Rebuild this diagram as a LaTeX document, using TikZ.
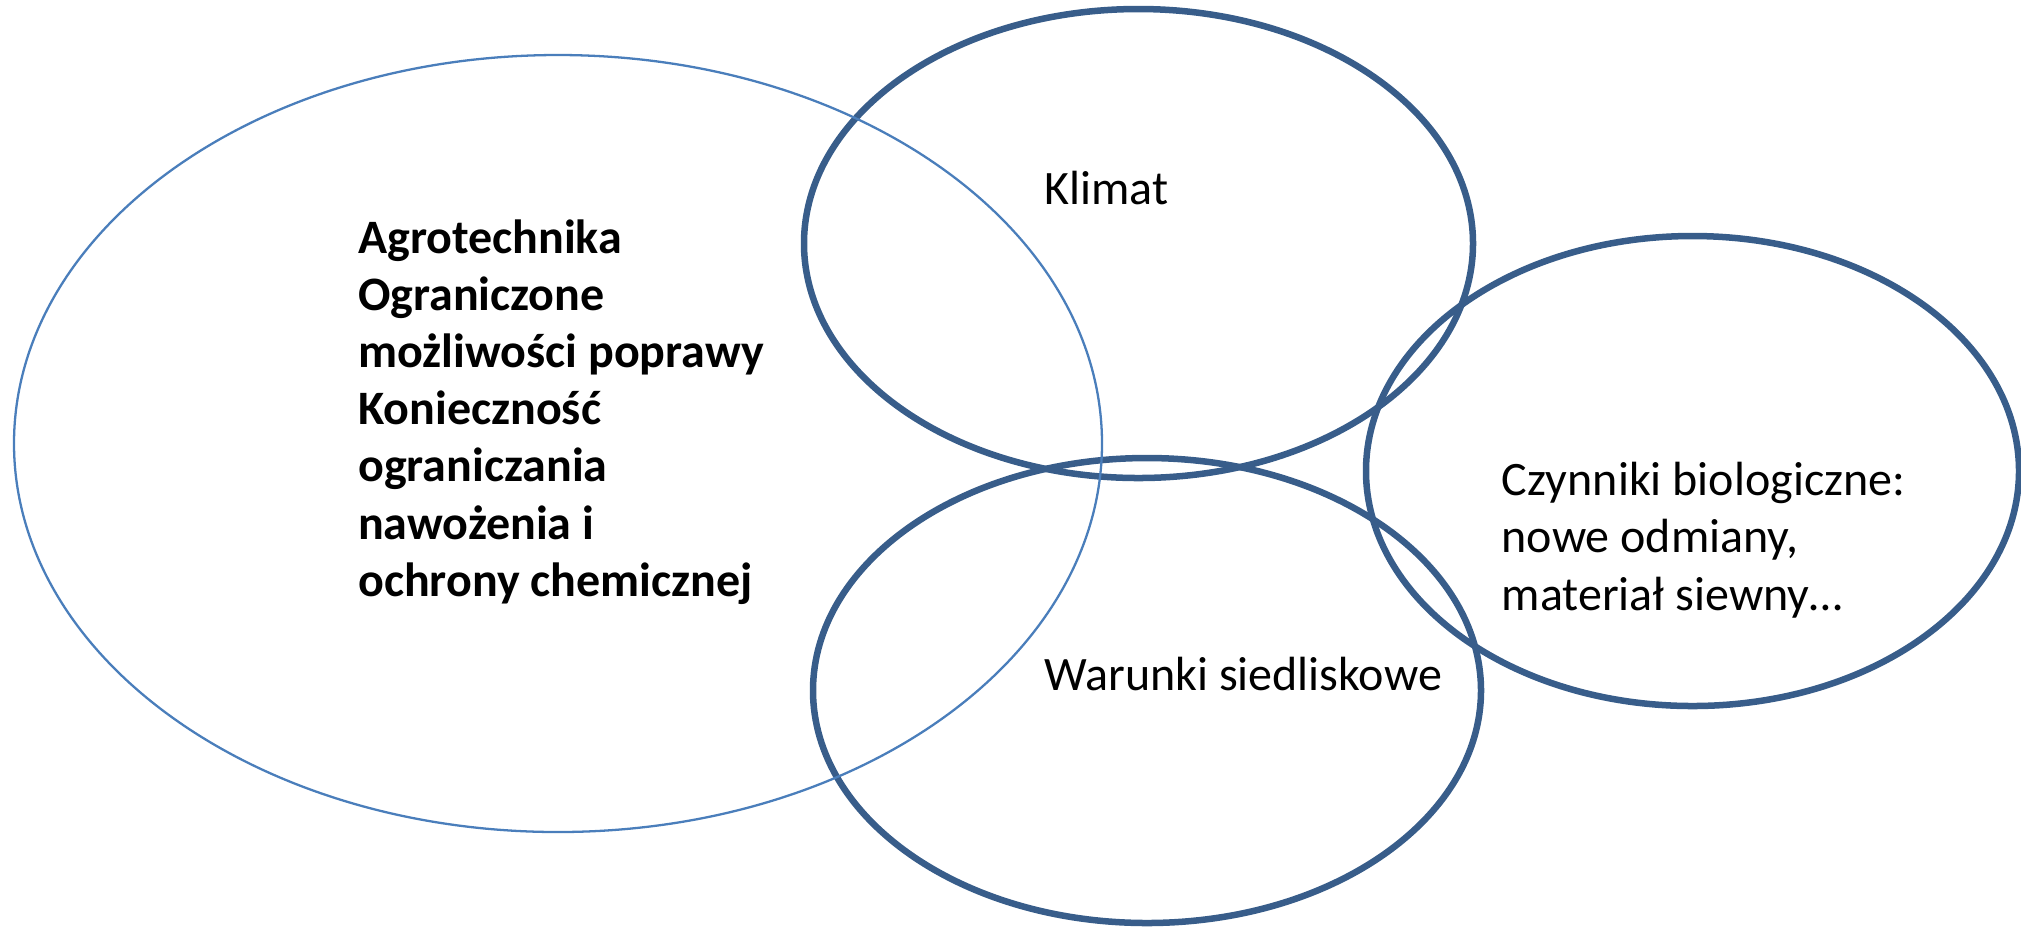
\documentclass[tikz,border=0pt]{standalone}
\usepackage{fontspec}
\setmainfont{Carlito}
\usepackage{tikz}
\definecolor{ovalblue}{HTML}{385D8A}
\definecolor{thinblue}{HTML}{4A7EBB}
\newcommand{\createoval}[5]{\draw[#1] ( #2 , #3 ) ellipse ( #4 and #5 );}
\tikzset{factor/.style={anchor=base west, inner sep=0pt, font=\fontsize{13.65}{16}\selectfont}}

\begin{document}
\begin{tikzpicture}[x=0.01cm,y=-0.01cm]
        \useasboundingbox (0,0) rectangle (2021,926);
    %ovals
    \createoval{line width=1.85pt, ovalblue}{1138.5}{243.5}{334.5}{234.5}
    \createoval{line width=1.85pt, ovalblue}{1147}{690.5}{334}{232.5}
    \createoval{line width=1.85pt, ovalblue}{1692.5}{471}{326.5}{235}
    \createoval{line width=0.65pt, thinblue}{558}{443.5}{544}{388.5}
    %texts
        \foreach \txt [count=\i] in {Agrotechnika, Ograniczone, możliwości poprawy, Konieczność, ograniczania, nawożenia i, ochrony chemicznej} {
            \node[factor] (agro\i) at (357.5, {253+(\i-1)*57.2}) {\bfseries\txt};}
        \foreach \txt [count=\i] in {Czynniki biologiczne:, {nowe odmiany,}, materiał siewny…} {
            \node[factor] (bio\i) at (1501, {495+(\i-1)*57.5}) {\txt};}
    \node[factor] (klimat) at (1043.5,204) {Klimat};
    \node[factor] (warunki) at (1043.5,690) {Warunki siedliskowe};
        \end{tikzpicture}
\end{document}
